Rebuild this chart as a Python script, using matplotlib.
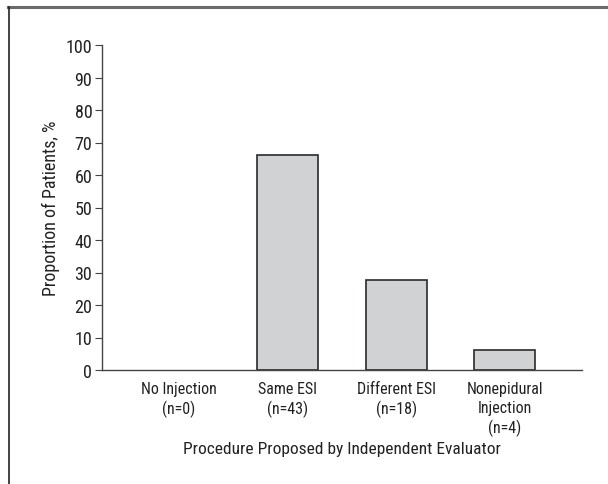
import matplotlib
matplotlib.use('Agg')
import matplotlib.pyplot as plt
from matplotlib.lines import Line2D
import numpy as np

categories = ['No Injection\n(n=0)', 'Same ESI\n(n=43)', 'Different ESI\n(n=18)',
              'Nonepidural\nInjection\n(n=4)']
proportions = [0.0, 66.2, 27.7, 6.2]
yticks = list(range(0, 101, 10))

plt.rcParams['font.family'] = ['Liberation Sans Narrow', 'Roboto Condensed', 'DejaVu Sans']

W, H, dpi = 608, 485, 100
fig = plt.figure(figsize=(W / dpi, H / dpi), dpi=dpi)

# axes box in pixels: x 102..582, y 46..371 (from top)
ax = fig.add_axes([102 / W, 1 - 371 / H, (582 - 102) / W, (371 - 46) / H])

x = np.arange(len(categories))
edges = ['#2a2a2a' if v > 0 else 'none' for v in proportions]
ax.bar(x, proportions, width=0.56, color='#d1d2d4', edgecolor=edges, linewidth=1.2)

ax.set_xlim(-0.71, 3.71)
ax.set_ylim(0, 100)
ax.set_yticks(yticks)
ax.set_yticklabels([str(v) for v in yticks], fontsize=13, color='#222222')
ax.set_xticks(x)
ax.set_xticklabels(categories, fontsize=11.5, color='#222222', linespacing=1.3)
ax.tick_params(axis='x', length=0, pad=8)
ax.tick_params(axis='y', length=5, width=0.8, color='#444444', pad=2)

for s in ['top', 'right']:
    ax.spines[s].set_visible(False)
for s in ['left', 'bottom']:
    ax.spines[s].set_linewidth(1.0)
    ax.spines[s].set_color('#444444')

ax.set_ylabel('Proportion of Patients, %', fontsize=13, color='#222222', labelpad=4)
fig.text(342 / W, 1 - 450 / H, 'Procedure Proposed by Independent Evaluator',
         ha='center', va='center', fontsize=12.5, color='#222222')

# outer frame (top and left edges only)
fig.add_artist(Line2D([8 / W, 1], [1 - 8 / H, 1 - 8 / H], transform=fig.transFigure,
                      color='#6b6b6b', linewidth=2.2))
fig.add_artist(Line2D([9 / W, 9 / W], [1 - 8 / H, 0], transform=fig.transFigure,
                      color='#222222', linewidth=1.2))

fig.savefig('out.png', dpi=dpi)
